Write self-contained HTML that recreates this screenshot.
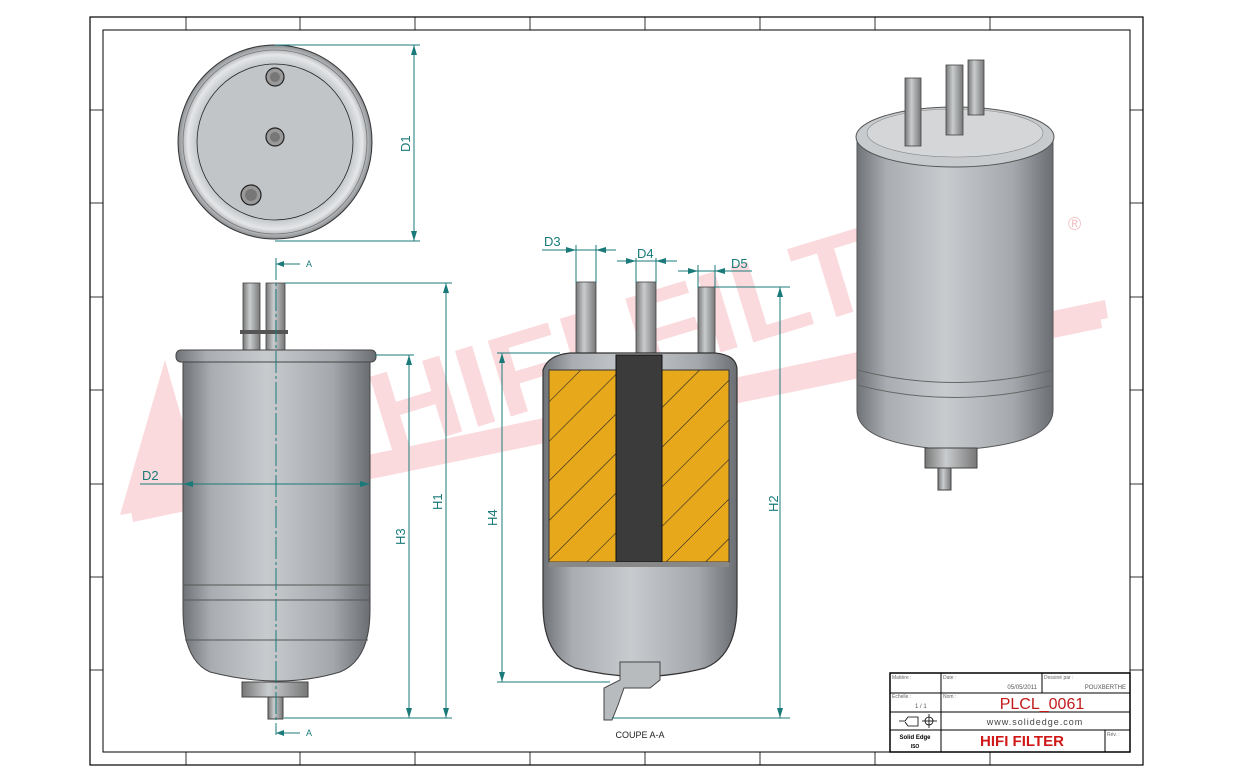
<!DOCTYPE html>
<html><head><meta charset="utf-8"><style>body{margin:0;background:#fff}svg{display:block}text{font-family:"Liberation Sans",sans-serif}</style></head><body>
<svg width="1233" height="782" viewBox="0 0 1233 782" xmlns="http://www.w3.org/2000/svg">
<defs>
<linearGradient id="cyl" x1="0" x2="1" y1="0" y2="0">
<stop offset="0" stop-color="#6f7377"/><stop offset="0.15" stop-color="#a9adb1"/><stop offset="0.45" stop-color="#c8cbce"/><stop offset="0.8" stop-color="#a4a8ac"/><stop offset="1" stop-color="#6a6e72"/></linearGradient>
<linearGradient id="pipe" x1="0" x2="1"><stop offset="0" stop-color="#777"/><stop offset="0.4" stop-color="#c9ccce"/><stop offset="1" stop-color="#777"/></linearGradient>
<radialGradient id="disc" cx="0.5" cy="0.5" r="0.5"><stop offset="0.8" stop-color="#c3c6c9"/><stop offset="0.9" stop-color="#e4e6e8"/><stop offset="1" stop-color="#8a8d90"/></radialGradient>
<pattern id="hatch" width="28" height="28" patternUnits="userSpaceOnUse" patternTransform="rotate(45)"><rect width="28" height="28" fill="#e8a81c"/><line x1="0" y1="0" x2="0" y2="28" stroke="#222" stroke-width="1.2"/></pattern>
</defs>
<rect x="90" y="17" width="1053" height="748" fill="none" stroke="#000" stroke-width="1.2"/>
<rect x="103" y="30" width="1027" height="722" fill="none" stroke="#000" stroke-width="1"/>
<g stroke="#000" stroke-width="0.8">
<line x1="186" y1="17" x2="186" y2="30"/><line x1="300" y1="17" x2="300" y2="30"/><line x1="415" y1="17" x2="415" y2="30"/><line x1="530" y1="17" x2="530" y2="30"/><line x1="645" y1="17" x2="645" y2="30"/><line x1="760" y1="17" x2="760" y2="30"/><line x1="875" y1="17" x2="875" y2="30"/><line x1="990" y1="17" x2="990" y2="30"/>
<line x1="186" y1="752" x2="186" y2="765"/><line x1="300" y1="752" x2="300" y2="765"/><line x1="415" y1="752" x2="415" y2="765"/><line x1="530" y1="752" x2="530" y2="765"/><line x1="645" y1="752" x2="645" y2="765"/><line x1="760" y1="752" x2="760" y2="765"/><line x1="875" y1="752" x2="875" y2="765"/><line x1="990" y1="752" x2="990" y2="765"/>
<line x1="90" y1="110" x2="103" y2="110"/><line x1="90" y1="203" x2="103" y2="203"/><line x1="90" y1="297" x2="103" y2="297"/><line x1="90" y1="390" x2="103" y2="390"/><line x1="90" y1="484" x2="103" y2="484"/><line x1="90" y1="577" x2="103" y2="577"/><line x1="90" y1="670" x2="103" y2="670"/>
<line x1="1130" y1="110" x2="1143" y2="110"/><line x1="1130" y1="203" x2="1143" y2="203"/><line x1="1130" y1="297" x2="1143" y2="297"/><line x1="1130" y1="390" x2="1143" y2="390"/><line x1="1130" y1="484" x2="1143" y2="484"/><line x1="1130" y1="577" x2="1143" y2="577"/><line x1="1130" y1="670" x2="1143" y2="670"/>
</g>
<!-- watermark -->
<g fill="#fadadd">
<polygon points="120,515 165,360 205,500"/>
<polygon points="130,505 1105,300 1108,318 133,522"/>
<polygon points="350,470 1100,315 1102,328 352,483"/>
<text x="385" y="455" font-size="115" font-weight="bold" font-family="Liberation Serif" textLength="690" lengthAdjust="spacingAndGlyphs" transform="rotate(-17 385 455)">HIFI FILTER</text>
</g>
<!-- top view -->
<circle cx="275" cy="142" r="97" fill="url(#disc)" stroke="#333" stroke-width="1"/>
<circle cx="275" cy="142" r="92" fill="none" stroke="#777" stroke-width="0.8"/>
<circle cx="275" cy="142" r="78" fill="#c2c5c8" stroke="#222" stroke-width="0.8"/>
<g stroke="#222" stroke-width="1.2"><circle cx="275" cy="77" r="9" fill="#999"/><circle cx="275" cy="137" r="9" fill="#999"/><circle cx="251" cy="195" r="10" fill="#999"/></g>
<g fill="#777"><circle cx="275" cy="77" r="5"/><circle cx="275" cy="137" r="5"/><circle cx="251" cy="195" r="6"/></g>
<!-- front view -->
<rect x="243" y="283" width="17" height="70" fill="url(#pipe)" stroke="#444" stroke-width="0.8"/>
<rect x="266" y="283" width="19" height="70" fill="url(#pipe)" stroke="#444" stroke-width="0.8"/>
<rect x="240" y="330" width="48" height="4" fill="#555"/>
<path d="M183,360 L370,360 L370,610 Q370,660 340,672 Q280,690 210,672 Q183,660 183,610 Z" fill="url(#cyl)" stroke="#444"/>
<rect x="176" y="350" width="200" height="12" rx="5" fill="url(#cyl)" stroke="#444"/>
<g stroke="#555" fill="none"><line x1="183" y1="585" x2="370" y2="585"/><line x1="183" y1="600" x2="370" y2="600"/><line x1="185" y1="640" x2="368" y2="640"/></g>
<rect x="242" y="682" width="66" height="15" fill="url(#pipe)" stroke="#444"/>
<rect x="268" y="697" width="15" height="22" fill="url(#pipe)" stroke="#444"/>
<!-- section view -->
<rect x="576" y="282" width="20" height="73" fill="url(#pipe)" stroke="#444" stroke-width="0.8"/>
<rect x="636" y="282" width="20" height="73" fill="url(#pipe)" stroke="#444" stroke-width="0.8"/>
<rect x="698" y="287" width="17" height="68" fill="url(#pipe)" stroke="#444" stroke-width="0.8"/>
<path d="M543,370 Q548,355 570,353 L715,353 Q737,355 737,370 L737,605 Q737,655 705,668 Q640,685 575,668 Q543,655 543,605 Z" fill="url(#cyl)" stroke="#333" stroke-width="1.2"/>
<rect x="549" y="370" width="180" height="192" fill="url(#hatch)" stroke="#333"/>
<rect x="616" y="355" width="46" height="207" fill="#3b3b3b" stroke="#111"/>
<rect x="549" y="562" width="180" height="5" fill="#888"/>
<path d="M620,662 L660,662 L660,680 L650,688 L624,688 L618,705 L612,720 L604,720 L604,688 L620,680 Z" fill="#b8bbbe" stroke="#444"/>
<text x="640" y="738" font-size="9" text-anchor="middle" font-family="Liberation Mono" fill="#222">COUPE A-A</text>
<!-- iso view -->
<path d="M857,140 L857,410 Q857,445 955,450 Q1053,445 1053,410 L1053,140 Z" fill="url(#cyl)" stroke="#555"/>
<ellipse cx="955" cy="137" rx="99" ry="30" fill="#c8cbce" stroke="#555"/>
<ellipse cx="955" cy="133" rx="88" ry="24" fill="#d4d6d8" stroke="#888" stroke-width="0.6"/>
<g stroke="#666" fill="none"><path d="M857,370 Q955,395 1053,370"/><path d="M857,385 Q955,410 1053,385"/></g>
<rect x="905" y="78" width="16" height="68" fill="url(#pipe)" stroke="#444" stroke-width="0.8"/>
<rect x="946" y="65" width="17" height="70" fill="url(#pipe)" stroke="#444" stroke-width="0.8"/>
<rect x="968" y="60" width="16" height="55" fill="url(#pipe)" stroke="#444" stroke-width="0.8"/>
<rect x="925" y="448" width="52" height="20" fill="url(#pipe)" stroke="#444"/>
<rect x="938" y="468" width="13" height="22" fill="url(#pipe)" stroke="#444"/>
<text x="1068" y="230" font-size="18" fill="#f2c0c4">®</text>
<!-- dimensions -->
<g stroke="#1a7a7a" stroke-width="1" fill="none">
<line x1="275" y1="45" x2="420" y2="45"/><line x1="275" y1="241" x2="420" y2="241"/><line x1="414" y1="45" x2="414" y2="241"/>
<line x1="276" y1="258" x2="276" y2="735" stroke-dasharray="22,3,3,3"/>
<line x1="285" y1="283" x2="452" y2="283"/><line x1="446" y1="283" x2="446" y2="718"/><line x1="284" y1="718" x2="452" y2="718"/>
<line x1="375" y1="355" x2="414" y2="355"/><line x1="409" y1="355" x2="409" y2="718"/>
<line x1="140" y1="484" x2="370" y2="484"/>
<line x1="497" y1="353" x2="560" y2="353"/><line x1="502" y1="353" x2="502" y2="682"/><line x1="497" y1="682" x2="610" y2="682"/>
<line x1="715" y1="287" x2="790" y2="287"/><line x1="780" y1="287" x2="780" y2="718"/><line x1="612" y1="718" x2="790" y2="718"/>
<line x1="576" y1="245" x2="576" y2="283"/><line x1="596" y1="245" x2="596" y2="283"/><line x1="542" y1="250" x2="616" y2="250"/>
<line x1="636" y1="258" x2="636" y2="283"/><line x1="656" y1="258" x2="656" y2="283"/><line x1="617" y1="261" x2="677" y2="261"/>
<line x1="698" y1="265" x2="698" y2="288"/><line x1="715" y1="265" x2="715" y2="288"/><line x1="678" y1="271" x2="752" y2="271"/>
<line x1="276" y1="264" x2="300" y2="264"/><line x1="276" y1="733" x2="300" y2="733"/>
</g>
<g fill="#1a7a7a">
<path d="M414,45 l-3,10 h6z M414,241 l-3,-10 h6z M446,283 l-3,10 h6z M446,718 l-3,-10 h6z M409,355 l-3,10 h6z M409,718 l-3,-10 h6z M502,353 l-3,10 h6z M502,682 l-3,-10 h6z M780,287 l-3,10 h6z M780,718 l-3,-10 h6z M183,484 l10,-3 v6z M370,484 l-10,-3 v6z M576,250 l-10,-3 v6z M596,250 l10,-3 v6z M636,261 l-10,-3 v6z M656,261 l10,-3 v6z M698,271 l-10,-3 v6z M715,271 l10,-3 v6z M276,264 l8,-3 v6z M276,733 l8,-3 v6z"/>
</g>
<g fill="#1a7a7a" font-size="13">
<text x="410" y="152" transform="rotate(-90 410 152)">D1</text>
<text x="142" y="480">D2</text>
<text x="544" y="246">D3</text>
<text x="637" y="258">D4</text>
<text x="731" y="268">D5</text>
<text x="442" y="510" transform="rotate(-90 442 510)">H1</text>
<text x="778" y="512" transform="rotate(-90 778 512)">H2</text>
<text x="405" y="545" transform="rotate(-90 405 545)">H3</text>
<text x="497" y="526" transform="rotate(-90 497 526)">H4</text>
<text x="306" y="267" font-size="9">A</text><text x="306" y="736" font-size="9">A</text>
</g>
<g stroke="#000" fill="none">
<rect x="890" y="673" width="240" height="79" stroke-width="1.5"/>
<line x1="890" y1="693" x2="1130" y2="693"/><line x1="890" y1="712" x2="1130" y2="712"/><line x1="890" y1="730" x2="1130" y2="730"/>
<line x1="941" y1="673" x2="941" y2="752"/><line x1="1042" y1="673" x2="1042" y2="693"/><line x1="1105" y1="730" x2="1105" y2="752"/>
</g>
<g font-size="5" fill="#666"><text x="892" y="679">Matière :</text><text x="943" y="679">Date :</text><text x="1044" y="679">Dessiné par :</text><text x="892" y="698">Échelle :</text><text x="943" y="698">Nom :</text><text x="1107" y="736">Rév. :</text></g>
<text x="1037" y="689" font-size="6" fill="#555" text-anchor="end">05/05/2011</text>
<text x="1126" y="689" font-size="6" fill="#555" text-anchor="end">POUXBERTHE</text>
<text x="915" y="708" font-size="6" fill="#555">1 / 1</text>
<text x="1042" y="709" font-size="16" fill="#c21a1a" text-anchor="middle">PLCL_0061</text>
<text x="1035" y="725" font-size="9" fill="#444" text-anchor="middle" letter-spacing="1">www.solidedge.com</text>
<text x="1022" y="746" font-size="15" font-weight="bold" fill="#d01818" text-anchor="middle">HIFI FILTER</text>
<text x="915" y="739" font-size="6" font-weight="bold" text-anchor="middle">Solid Edge</text>
<text x="915" y="748" font-size="5" font-weight="bold" text-anchor="middle">ISO</text>
<g stroke="#000" fill="none" stroke-width="0.8"><path d="M899,721 h6 l3,-4 h10 v9 h-10 l-3,-4"/><circle cx="929" cy="721" r="4"/><line x1="922" y1="721" x2="937" y2="721"/><line x1="929" y1="714" x2="929" y2="728"/></g>
</svg>
</body></html>
